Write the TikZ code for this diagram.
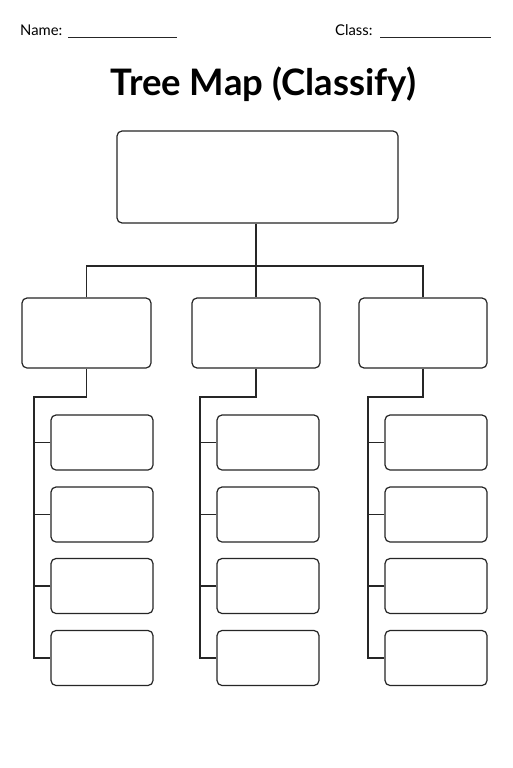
\documentclass[tikz,border=0pt]{standalone}
\usepackage{fontspec}
\setmainfont{Lato}
\begin{document}
\begin{tikzpicture}[x=1pt,y=-1pt,
  box/.style={draw=black!85, line width=1.2pt, rounded corners=5pt, fill=white, inner sep=0pt},
  conn/.style={draw=black!85, line width=1.2pt},
  rule/.style={draw=black!85, line width=0.9pt}]
\useasboundingbox[fill=white] (0,0) rectangle (512,768);
% header
\node[anchor=base west, inner sep=0pt, font=\fontsize{14.8}{16}\selectfont] (name) at (20,36) {Name:};
\draw[rule] (68,37.5) -- (177,37.5);
\node[anchor=base west, inner sep=0pt, font=\fontsize{14.8}{16}\selectfont] (class) at (335,36) {Class:};
\draw[rule] (380,37.5) -- (491,37.5);
\node[anchor=base, inner sep=0pt, font=\fontsize{36.5}{40}\selectfont\bfseries] (title) at (263.5,95) {Tree Map (Classify)};
% top
\node[box, minimum width=281pt, minimum height=92pt] (top) at (257.5,177) {};
% level 2
\node[box, minimum width=129pt, minimum height=70pt] (L) at (86.5,333) {};
\node[box, minimum width=128pt, minimum height=70pt] (M) at (256,333) {};
\node[box, minimum width=128pt, minimum height=70pt] (R) at (423,333) {};
% leaves
\foreach \c/\x in {L/102, M/268, R/436}{
  \foreach \i/\y in {1/442.5, 2/514.5, 3/586, 4/658}{
    \node[box, minimum width=102pt, minimum height=55pt] (\c\i) at (\x,\y) {};
  }
}
% connectors top
\coordinate (bar) at (256,266);
\draw[conn] (top.south -| M.north) -- (M.north);
\draw[conn] (L.north) |- (bar) -| (R.north);
% columns
\coordinate (Ls) at (34,397);
\coordinate (Ms) at (200,397);
\coordinate (Rs) at (368,397);
\foreach \c in {L,M,R}{
  \draw[conn] (\c.south) |- (\c s) |- (\c4.west);
  \foreach \i in {1,2,3}{
    \draw[conn] (\c\i.west) -- (\c s |- \c\i.west);
  }
}
\end{tikzpicture}
\end{document}
